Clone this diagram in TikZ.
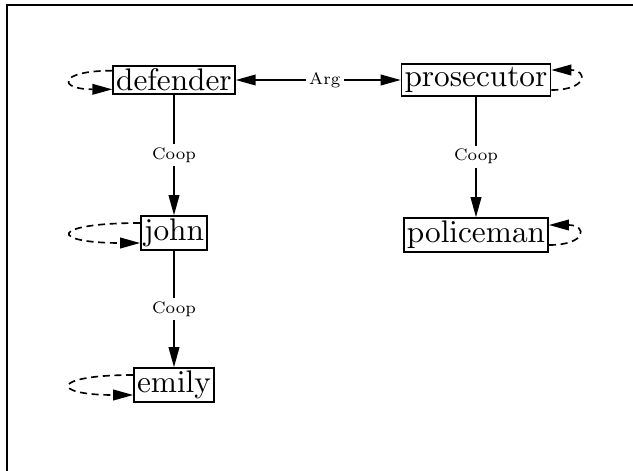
\documentclass[tikz,border=0pt]{standalone}
\usepackage{tikz}
\usetikzlibrary{arrows.meta}
\font\agentfont=cmr10 at 26.7pt
\font\relfont=cmr7 at 14.3pt
\begin{document}
\begin{tikzpicture}[x=0.03cm, y=-0.03cm,
    >={Triangle[length=0.6cm,width=0.32cm]},
    agent/.style={draw, line width=1.5pt, inner sep=0.09cm, font=\agentfont},
    rel/.style={fill=white, inner sep=0.1cm, font=\relfont},
    link/.style={line width=1.4pt},
    selfloop/.style={->, line width=1.4pt, dash pattern=on 6pt off 4pt}]
        % frame of the figure
        \useasboundingbox (0,0) rectangle (633,471);
        \draw[line width=1.6pt] (7,471) -- (7,5) -- (633,5);
        % agents
        \node[agent] (defender) at (174,80) {defender};
        \node[agent] (prosecutor) at (476,80) {prosecutor};
        \node[agent] (john) at (174,233) {john};
        \node[agent] (policeman) at (476,235) {policeman};
        \node[agent] (emily) at (174,385) {emily};
        % relations between agents
        \draw[link, <->] (defender) -- node[rel, pos=0.54] {Arg} (prosecutor);
        \draw[link, ->] (defender) -- node[rel] {Coop} (john);
        \draw[link, ->] (prosecutor) -- node[rel] {Coop} (policeman);
        \draw[link, ->] (john) -- node[rel] {Coop} (emily);
        % self loops
        \draw[selfloop] ([yshift=0.28cm]defender.west) to[out=180, in=180, distance=1.65cm] ([yshift=-0.28cm]defender.west);
        \draw[selfloop] ([yshift=0.3cm]john.west) to[out=180, in=180, distance=2.75cm] ([yshift=-0.3cm]john.west);
        \draw[selfloop] ([yshift=0.3cm]emily.west) to[out=180, in=180, distance=2.5cm] ([yshift=-0.3cm]emily.west);
        \draw[selfloop] ([yshift=-0.3cm]prosecutor.east) to[out=0, in=0, distance=1.1cm] ([yshift=0.3cm]prosecutor.east);
        \draw[selfloop] ([yshift=-0.3cm]policeman.east) to[out=0, in=0, distance=1.15cm] ([yshift=0.3cm]policeman.east);
    \end{tikzpicture}
\end{document}
